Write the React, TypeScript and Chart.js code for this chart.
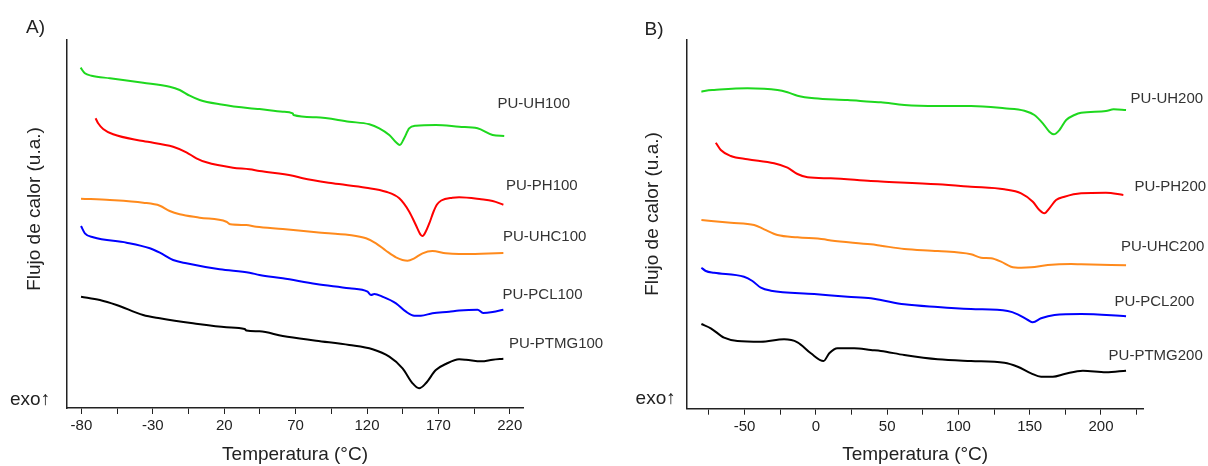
import React, { useEffect, useRef } from "react";
import { Chart, registerables } from "chart.js";

Chart.register(...registerables);

// ---------------- Panel A (100 series) ----------------
const A_UH100_T = [-80.6, -77.6, -72.9, -60.1, -36.8, -18.2, -11.2, -4.2, 2.8, 16.8, 37.7, 44.7, 61, 68, 68.5, 84.4, 107.6, 121.6, 128.6, 135.6, 140.3, 143, 146, 149.5, 154.2, 168.2, 184.5, 197.4, 208, 216.1];
const A_UH100_Q = [340.3, 334.7, 332.3, 329.7, 325.3, 321.3, 318, 312.3, 308, 303.7, 299.7, 299, 296.3, 294.7, 293, 290.7, 286.3, 283.7, 279.7, 273, 265.7, 263, 269.7, 279.7, 282.3, 283, 281.3, 279.7, 273, 272];

const A_PH100_T = [-70.1, -68.3, -64.8, -57.8, -36.8, -15.8, -6.5, 0.5, 7.5, 26.1, 37.7, 44.7, 68, 75, 96, 119.3, 133.3, 142.6, 149.6, 154.2, 157.7, 158.9, 161, 164, 166.5, 169, 172, 179.8, 184.5, 199.9, 208, 215.5];
const A_PH100_Q = [289.7, 284.7, 279, 273.7, 267, 261.3, 255.7, 249.7, 245.7, 240.3, 238.7, 237, 232.3, 229.7, 224.7, 220.3, 216.3, 209.7, 196.3, 183, 173, 172, 176, 186, 196, 203.5, 207.5, 210.3, 210.7, 208.7, 207, 203.3];

const A_UHC100_T = [-80.3, -60.1, -36.8, -25.1, -18.2, -11.2, 2.8, 21.5, 24.3, 35.4, 42.4, 61, 84.4, 107.6, 119.3, 126.3, 133.3, 140.3, 148.4, 153.1, 158.9, 165.8, 175.2, 184.5, 200, 215.5];
const A_UHC100_Q = [209.3, 208, 205.3, 202.3, 197, 193.7, 190.3, 186.3, 183.7, 183, 181.3, 179, 175.7, 173, 169.7, 164.7, 157.3, 150.7, 147.3, 149.7, 154.7, 157, 154.7, 154, 154.3, 155];

const A_PCL100_T = [-80.3, -77.6, -71.8, -48.4, -32.1, -25.1, -15.8, -6.5, 16.8, 37.7, 44.7, 61, 84.4, 107.6, 120.4, 122.8, 125.1, 130.9, 140.3, 147.3, 153.1, 157.7, 165.8, 177.5, 184.5, 197.4, 201.3, 208, 215.5];
const A_PCL100_Q = [182, 174.7, 170.7, 165.3, 159.7, 155.3, 148, 144.7, 138.7, 135.3, 133, 129.7, 124, 119.7, 116.3, 113, 114, 111.3, 104.7, 96.3, 92.3, 92.3, 94.7, 96.3, 97.5, 98.3, 95, 96, 98.3];

const A_PTMG100_T = [-80.3, -67.1, -55.4, -36.8, -25.1, -1.9, 21.5, 34.3, 35.5, 44.7, 61, 84.4, 107.6, 123.9, 135.6, 144.9, 151.9, 156.5, 161.2, 168.2, 175.2, 184.5, 189.3, 200, 208, 215.5];
const A_PTMG100_Q = [111.3, 108, 103, 93, 89.7, 84.7, 80.7, 79, 77.5, 76.7, 72, 67.3, 63, 58.7, 51.3, 39.7, 24.7, 19.7, 24.7, 38, 44, 48.7, 48.3, 46.7, 48.3, 49.3];

// ---------------- Panel B (200 series) ----------------
const B_UH200_T = [-80.3, -77.2, -71.4, -48, -26.9, -19.9, -12.9, -1.2, 22.3, 38.6, 45.6, 62, 85.5, 108.8, 132.2, 146.3, 153.3, 159.2, 163.8, 166.9, 170.9, 175.6, 181.4, 186.1, 203.5, 208.9, 217.6];
const B_UH200_Q = [316.3, 317.3, 318, 319.7, 318, 315.7, 312.3, 309.7, 308, 306.3, 305.7, 303, 302, 302, 299.7, 297.3, 293, 284.7, 276.3, 273.7, 278, 288, 293, 295.3, 297, 298.7, 298];

const B_PH200_T = [-70.2, -66.7, -59.7, -48, -29.3, -19.9, -12.9, -5.8, 10.5, 38.6, 45.6, 85.5, 108.8, 132.2, 144, 152.2, 156.8, 160.3, 163.8, 168.5, 174.4, 186.1, 203.5, 215.7];
const B_PH200_Q = [265.3, 258, 252, 248.7, 244.7, 240.3, 234, 230.7, 229.7, 227, 226.5, 223.7, 221.3, 218.7, 214.7, 206.3, 198, 194.7, 199.7, 208, 211.3, 214.7, 215.3, 213];

const B_UHC200_T = [-80.3, -59.7, -43.3, -36.3, -26.9, -12.9, 5.8, 10.5, 38.6, 45.6, 62, 85.5, 108.8, 115.9, 122.9, 129.9, 136.9, 144, 151, 162.7, 179.1, 186.1, 217.6];
const B_UHC200_Q = [188, 185.3, 183, 178.7, 173, 170.7, 168.7, 167.5, 163.7, 162.3, 159, 157, 153.7, 150.3, 149.7, 146.3, 141.3, 140.3, 140.7, 143, 144, 143.7, 142.7];

const B_PCL200_T = [-80.3, -77.2, -71.4, -50.4, -44.5, -38.6, -31.6, -1.2, 22.3, 38.6, 45.6, 62, 85.5, 108.8, 134.6, 141.6, 148.7, 152.2, 158, 167.4, 186.1, 217.6];
const B_PCL200_Q = [140.3, 137, 135.3, 131.3, 127, 120.3, 117.3, 114, 111.3, 109.7, 108, 103.7, 101, 99, 97, 93.7, 88, 85.7, 89.7, 93, 94, 91.7];

const B_PTMG200_T = [-80.3, -73.7, -64.4, -55, -38.6, -22.3, -12.9, -3.5, 5.4, 9.4, 15.2, 26.9, 38.6, 45.6, 62, 85.5, 108.8, 132.2, 141.6, 151, 158, 166.2, 174.4, 187.3, 203.5, 217.6];
const B_PTMG200_Q = [84, 79.7, 70.3, 67, 66.3, 68.7, 65.7, 54.7, 47, 54.7, 59.7, 59.7, 58, 57, 53, 48.7, 47, 45.3, 41.3, 34.7, 31.3, 31.3, 34, 37.3, 35.7, 37.3];

// ---------------- Ticks ----------------
const A_TICKS = [-80, -55, -30, -5, 20, 45, 70, 95, 120, 145, 170, 195, 220];
const A_MAJOR = [-80, -30, 20, 70, 120, 170, 220];
const B_TICKS = [-75, -50, -25, 0, 25, 50, 75, 100, 125, 150, 175, 200, 225];
const B_MAJOR = [-50, 0, 50, 100, 150, 200];

const NAMES_A = ["PU-UH100", "PU-PH100", "PU-UHC100", "PU-PCL100", "PU-PTMG100"];
const NAMES_B = ["PU-UH200", "PU-PH200", "PU-UHC200", "PU-PCL200", "PU-PTMG200"];
const COLORS = ["#1ed81e", "#ff0000", "#ff8a1c", "#0000ff", "#000000"];

const FONT = '"Liberation Sans", Arial, sans-serif';
const TEXT_COLOR = "#222";

type PanelCfg = {
  letter: string;
  series: [number[], number[]][];
  names: string[];
  ticks: number[];
  major: number[];
  xMin: number;
  xMax: number;
  yMin: number;
  yMax: number;
  yAxisWidth: number;
  xAxisHeight: number;
  padRight: number;
  padTop: number;
  letterPos: [number, number];
  exoPos: [number, number];
  yTitlePos: [number, number];
  labelPos: [number, number][];
};

const PANEL_A: PanelCfg = {
  letter: "A)",
  series: [
    [A_UH100_T, A_UH100_Q],
    [A_PH100_T, A_PH100_Q],
    [A_UHC100_T, A_UHC100_Q],
    [A_PCL100_T, A_PCL100_Q],
    [A_PTMG100_T, A_PTMG100_Q],
  ],
  names: NAMES_A,
  ticks: A_TICKS,
  major: A_MAJOR,
  xMin: -90.4,
  xMax: 229.6,
  yMin: 0,
  yMax: 368,
  yAxisWidth: 66.6,
  xAxisHeight: 58,
  padRight: 80.5,
  padTop: 40,
  letterPos: [26, 28],
  exoPos: [10, 400],
  yTitlePos: [35, 209],
  labelPos: [
    [497.5, 104],
    [506, 186],
    [503, 237],
    [502.5, 295],
    [509, 344],
  ],
};

const PANEL_B: PanelCfg = {
  letter: "B)",
  series: [
    [B_UH200_T, B_UH200_Q],
    [B_PH200_T, B_PH200_Q],
    [B_UHC200_T, B_UHC200_Q],
    [B_PCL200_T, B_PCL200_Q],
    [B_PTMG200_T, B_PTMG200_Q],
  ],
  names: NAMES_B,
  ticks: B_TICKS,
  major: B_MAJOR,
  xMin: -90.4,
  xMax: 229.7,
  yMin: -0.7,
  yMax: 368,
  yAxisWidth: 83,
  xAxisHeight: 57.3,
  padRight: 64.7,
  padTop: 40,
  letterPos: [40.5, 30],
  exoPos: [31.6, 399],
  yTitlePos: [49, 214],
  labelPos: [
    [526.6, 99],
    [530.4, 187],
    [517, 247],
    [510.4, 302],
    [504.6, 356],
  ],
};

function makeTextPlugin(p: PanelCfg) {
  return {
    id: "panelText",
    afterDraw(chart: any) {
      const ctx = chart.ctx as CanvasRenderingContext2D;
      ctx.save();
      ctx.fillStyle = TEXT_COLOR;
      ctx.textBaseline = "middle";
      ctx.textAlign = "left";
      ctx.font = `19px ${FONT}`;
      ctx.fillText(p.letter, p.letterPos[0], p.letterPos[1]);
      ctx.fillText("exo\u2191", p.exoPos[0], p.exoPos[1]);
      ctx.save();
      ctx.translate(p.yTitlePos[0], p.yTitlePos[1]);
      ctx.rotate(-Math.PI / 2);
      ctx.textAlign = "center";
      ctx.fillText("Flujo de calor (u.a.)", 0, 0);
      ctx.restore();
      ctx.font = `15px ${FONT}`;
      ctx.fillStyle = "#333";
      p.names.forEach((n, i) => {
        ctx.fillText(n, p.labelPos[i][0], p.labelPos[i][1]);
      });
      ctx.restore();
    },
  };
}

function Panel({ cfg, left }: { cfg: PanelCfg; left: number }) {
  const ref = useRef<HTMLCanvasElement | null>(null);
  useEffect(() => {
    if (!ref.current) return;
    const datasets = cfg.series.map(([t, q], i) => ({
      label: cfg.names[i],
      data: t.map((x, k) => ({ x, y: q[k] })),
      borderColor: COLORS[i],
      backgroundColor: COLORS[i],
      borderWidth: 2,
      pointRadius: 0,
      fill: false,
      cubicInterpolationMode: "monotone" as const,
    }));
    const chart = new Chart(ref.current, {
      type: "line",
      data: { datasets },
      plugins: [makeTextPlugin(cfg)],
      options: {
        animation: false,
        responsive: false,
        devicePixelRatio: 1,
        layout: { padding: { left: 0, right: cfg.padRight, top: cfg.padTop, bottom: 0 } },
        plugins: { legend: { display: false }, tooltip: { enabled: false } },
        scales: {
          x: {
            type: "linear",
            min: cfg.xMin,
            max: cfg.xMax,
            afterBuildTicks: (scale: any) => {
              scale.ticks = cfg.ticks.map((v) => ({ value: v }));
            },
            afterFit: (scale: any) => {
              scale.height = cfg.xAxisHeight;
            },
            ticks: {
              autoSkip: false,
              maxRotation: 0,
              padding: 3,
              color: TEXT_COLOR,
              font: { family: FONT, size: 15 },
              callback: (v: any) => (cfg.major.includes(Number(v)) ? String(v) : ""),
            },
            grid: {
              display: true,
              drawOnChartArea: false,
              drawTicks: true,
              tickLength: 6,
              color: "#222",
              lineWidth: 1,
            },
            border: { display: true, color: "#222", width: 1.5 },
            title: {
              display: true,
              text: "Temperatura (°C)",
              color: TEXT_COLOR,
              font: { family: FONT, size: 19 },
              padding: { top: 0, bottom: 0 },
            },
          },
          y: {
            type: "linear",
            min: cfg.yMin,
            max: cfg.yMax,
            afterFit: (scale: any) => {
              scale.width = cfg.yAxisWidth;
            },
            ticks: { display: false },
            grid: { display: false },
            border: { display: true, color: "#222", width: 1.5 },
          },
        },
      },
    });
    return () => chart.destroy();
  }, [cfg]);
  return (
    <canvas
      ref={ref}
      width={604}
      height={466}
      style={{ position: "absolute", left, top: 0, width: 604, height: 466 }}
    />
  );
}

export default function App() {
  return (
    <div
      style={{
        position: "absolute",
        left: 0,
        top: 0,
        width: 1208,
        height: 466,
        background: "#fff",
        overflow: "hidden",
      }}
    >
      <Panel cfg={PANEL_A} left={0} />
      <Panel cfg={PANEL_B} left={604} />
    </div>
  );
}
